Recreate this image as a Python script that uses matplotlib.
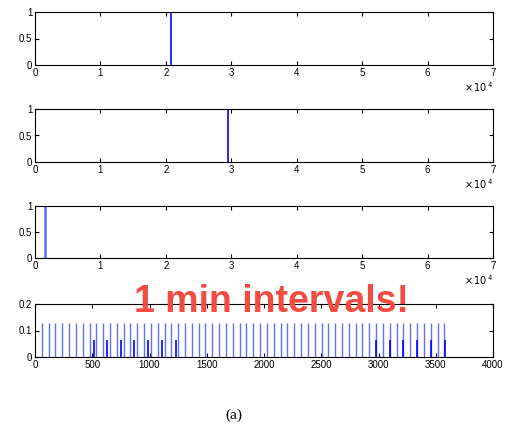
import numpy as np
import matplotlib
matplotlib.use("Agg")
import matplotlib.pyplot as plt

plt.rcParams['font.family'] = ['Liberation Sans', 'DejaVu Sans']

# single spike in each of the first three panels (x in seconds)
spike_x = [20830, 29540, 1530]
spike_h = [1, 1, 1]

# bottom panel: 1-minute events
tall_x = [59, 119, 178, 238, 297, 357, 417, 476, 536, 595,
          655, 715, 774, 834, 893, 953, 1013, 1072, 1132, 1191,
          1251, 1311, 1370, 1430, 1489, 1549, 1609, 1668, 1728, 1787,
          1847, 1907, 1966, 2026, 2085, 2145, 2205, 2264, 2324, 2383,
          2443, 2503, 2562, 2622, 2681, 2741, 2801, 2860, 2920, 2979,
          3039, 3099, 3158, 3218, 3277, 3337, 3397, 3456, 3516, 3575]
tall_h = 0.13
short_x = [518, 631, 748, 867, 990, 1112, 1229, 2978, 3097, 3216, 3336, 3459, 3578]
short_h = 0.065

top_xticks = [0, 1, 2, 3, 4, 5, 6, 7]
bot_xticks = [0, 500, 1000, 1500, 2000, 2500, 3000, 3500, 4000]

W, H = 509, 426
fig = plt.figure(figsize=(W / 100, H / 100), dpi=100)

def box(x0, y0, x1, y1):
    return [x0 / W, 1 - y1 / H, (x1 - x0) / W, (y1 - y0) / H]

panel_px = [(35, 12, 493, 65), (35, 109, 493, 162), (35, 206, 493, 258)]

def style(ax):
    ax.tick_params(direction='in', length=3, width=0.8, labelsize=7, pad=2,
                   top=True, right=True)
    for s in ax.spines.values():
        s.set_linewidth(0.8)

for i, (p, sx, sh) in enumerate(zip(panel_px, spike_x, spike_h)):
    ax = fig.add_axes(box(*p))
    ax.vlines([sx / 1e4], 0, sh, color='blue' if i < 2 else '#5a6cff', lw=1.2 if i < 2 else 1.8)
    ax.set_xlim(0, 7)
    ax.set_ylim(0, 1)
    ax.set_xticks(top_xticks)
    ax.set_xticklabels([str(t) for t in top_xticks])
    ax.set_yticks([0, 0.5, 1])
    ax.set_yticklabels(['0', '0.5', '1'])
    style(ax)
    ax.text(1.0, -0.42, r'$\times\,10^{\,4}$', transform=ax.transAxes,
            ha='right', va='center', fontsize=7)

ax = fig.add_axes(box(35, 304, 493, 357))
ax.vlines(tall_x, 0, tall_h, color='#6070ff', lw=1.0)
ax.vlines(short_x, 0, short_h, color='blue', lw=1.2)
ax.set_xlim(0, 4000)
ax.set_ylim(0, 0.2)
ax.set_xticks(bot_xticks)
ax.set_xticklabels([str(t) for t in bot_xticks])
ax.set_yticks([0, 0.1, 0.2])
ax.set_yticklabels(['0', '0.1', '0.2'])
style(ax)

fig.text(271 / W, 1 - 302 / H, '1 min intervals!', color='#f24c42',
         fontsize=27, fontweight='bold', ha='center', va='center')
fig.text(234 / W, 1 - 415 / H, '(a)', family=['Liberation Serif'],
         fontsize=11, ha='center', va='center')

fig.savefig('out.png', dpi=100)
